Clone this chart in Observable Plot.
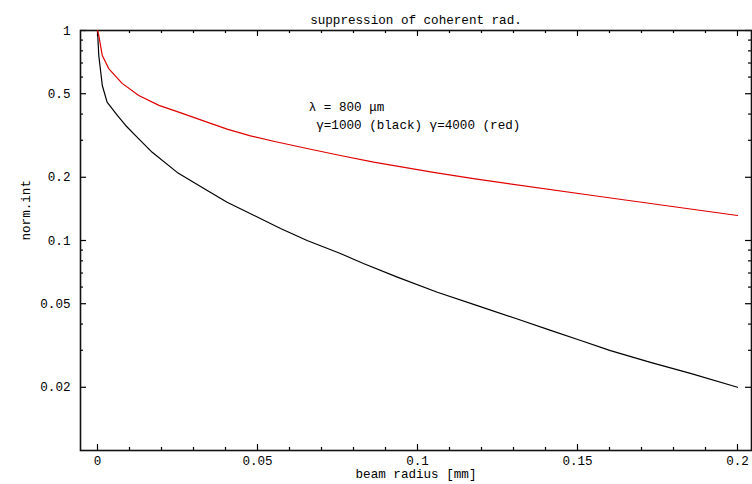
<!DOCTYPE html>
<html>
<head>
<meta charset="utf-8">
<script src="https://cdn.jsdelivr.net/npm/d3@7"></script>
<script src="https://cdn.jsdelivr.net/npm/@observablehq/plot@0.6"></script>
<style>
  html, body { margin: 0; padding: 0; background: #fff; }
</style>
</head>
<body>
<div id="chart"></div>
<script>
// beam radius [mm] vs normalized intensity
const xBlack = [0, 0.0004, 0.0015, 0.003, 0.0062, 0.0088, 0.0129, 0.0171, 0.0249, 0.0343, 0.0405, 0.0488, 0.0572, 0.0655, 0.0759, 0.0831, 0.0937, 0.1062, 0.1187, 0.1312, 0.1416, 0.151, 0.1603, 0.1728, 0.1853, 0.2];
const yBlack = [1.0, 0.76, 0.547, 0.456, 0.394, 0.353, 0.305, 0.263, 0.211, 0.173, 0.152, 0.132, 0.114, 0.1, 0.0867, 0.0777, 0.0669, 0.0567, 0.049, 0.0423, 0.0373, 0.0334, 0.0299, 0.0263, 0.0233, 0.02];
const xRed = [0, 0.0004, 0.0015, 0.0035, 0.0077, 0.0129, 0.0192, 0.0265, 0.0338, 0.0405, 0.0478, 0.055, 0.0666, 0.0759, 0.0863, 0.105, 0.1175, 0.157, 0.2];
const yRed = [1.0, 0.947, 0.76, 0.659, 0.56, 0.49, 0.44, 0.403, 0.368, 0.339, 0.315, 0.297, 0.272, 0.254, 0.236, 0.211, 0.197, 0.162, 0.1315];

const xMajor = [0, 0.05, 0.1, 0.15, 0.2];
const xMajorLabels = ["0", "0.05", "0.1", "0.15", "0.2"];
const xMinor = [0.01, 0.02, 0.03, 0.04, 0.06, 0.07, 0.08, 0.09, 0.11, 0.12, 0.13, 0.14, 0.16, 0.17, 0.18, 0.19];
const yMajor = [1, 0.5, 0.2, 0.1, 0.05, 0.02];
const yMajorLabels = ["1", "0.5", "0.2", "0.1", "0.05", "0.02"];
const yMinor = [0.03, 0.04, 0.06, 0.07, 0.08, 0.09, 0.3, 0.4, 0.6, 0.7, 0.8, 0.9];
const xDomain = [-0.0053125, 0.204375];
const yDomain = [0.01, 1];

const title = "suppression of coherent rad.";
const xLabel = "beam radius [mm]";
const yLabel = "norm.int";
const annotation = ["λ = 800 μm\n γ=1000 (black) γ=4000 (red)"];
const annX = [0.066];
const annY = [0.4];

const blackData = xBlack.map((x, i) => ({x, y: yBlack[i]}));
const redData = xRed.map((x, i) => ({x, y: yRed[i]}));

const W = 752, H = 484, ML = 80, MR = 1, MT = 30, MB = 34;
const PW = W - ML - MR, PH = H - MT - MB;
const FONT = "'Liberation Mono', 'DejaVu Sans Mono', monospace";
const FS = 12.6;
const major = 6, minor = 3;

const chart = Plot.plot({
  width: W,
  height: H,
  marginLeft: ML,
  marginRight: MR,
  marginTop: MT,
  marginBottom: MB,
  style: {fontFamily: FONT, fontSize: FS + "px", background: "#fff", color: "#000"},
  x: {type: "linear", domain: xDomain, axis: null},
  y: {type: "log", domain: yDomain, axis: null},
  marks: [
    // ticks: left / right
    Plot.tickY(yMajor, {y: d => d, insetRight: PW - major, stroke: "#000", strokeWidth: 1.2}),
    Plot.tickY(yMinor, {y: d => d, insetRight: PW - minor, stroke: "#000", strokeWidth: 1.2}),
    Plot.tickY(yMajor, {y: d => d, insetLeft: PW - major, stroke: "#000", strokeWidth: 1.2}),
    Plot.tickY(yMinor, {y: d => d, insetLeft: PW - minor, stroke: "#000", strokeWidth: 1.2}),
    // ticks: bottom / top
    Plot.tickX(xMajor, {x: d => d, insetTop: PH - major, stroke: "#000", strokeWidth: 1.2}),
    Plot.tickX(xMinor, {x: d => d, insetTop: PH - minor, stroke: "#000", strokeWidth: 1.2}),
    Plot.tickX(xMajor, {x: d => d, insetBottom: PH - major, stroke: "#000", strokeWidth: 1.2}),
    Plot.tickX(xMinor, {x: d => d, insetBottom: PH - minor, stroke: "#000", strokeWidth: 1.2}),
    Plot.frame({stroke: "#111", strokeWidth: 1.6}),
    // tick labels
    Plot.text(yMajor, {y: d => d, frameAnchor: "left", dx: -10, textAnchor: "end", text: (d, i) => yMajorLabels[i], fontSize: FS, fill: "#000"}),
    Plot.text(xMajor, {x: d => d, frameAnchor: "bottom", dy: 14, text: (d, i) => xMajorLabels[i], fontSize: FS, fill: "#000"}),
    // axis titles
    Plot.text([xLabel], {frameAnchor: "bottom", dy: 27.5, text: d => d, fontSize: FS, fill: "#000"}),
    Plot.text([yLabel], {frameAnchor: "left", dx: -55, rotate: -90, text: d => d, fontSize: FS, fill: "#000"}),
    Plot.text([title], {frameAnchor: "top", dy: -15, text: d => d, fontSize: FS, fill: "#000"}),
    // annotation
    Plot.text(annotation, {x: (d, i) => annX[i], y: (d, i) => annY[i], text: d => d, textAnchor: "start", lineHeight: 1.4, fontSize: FS, fill: "#000"}),
    // curves
    Plot.line(blackData, {x: "x", y: "y", stroke: "#000", strokeWidth: 1.2}),
    Plot.line(redData, {x: "x", y: "y", stroke: "#e00000", strokeWidth: 1.2})
  ]
});
document.getElementById("chart").appendChild(chart);
</script>
</body>
</html>
